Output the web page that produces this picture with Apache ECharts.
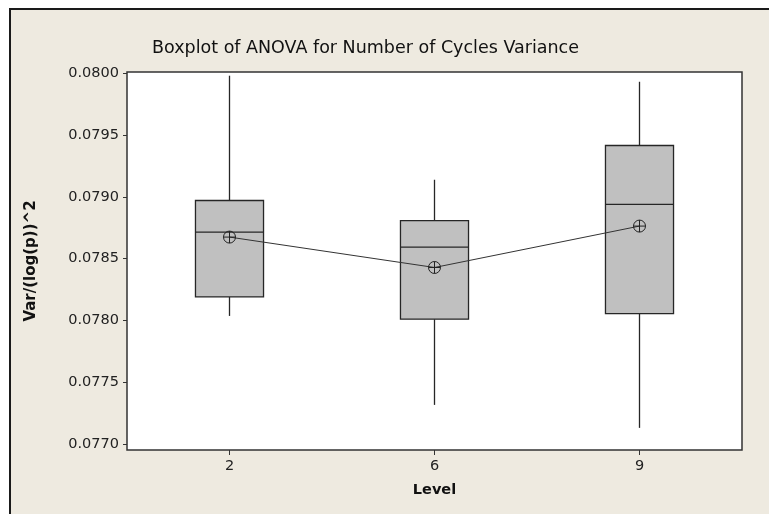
<!DOCTYPE html>
<html>
<head>
<meta charset="utf-8">
<script src="https://cdn.jsdelivr.net/npm/echarts@6/dist/echarts.min.js"></script>
<style>
html,body{margin:0;padding:0;background:#fff;}
#chart{width:769px;height:514px;}
</style>
</head>
<body>
<div id="chart"></div>
<script>
// ---- data ----
const levels = ['2', '6', '9'];
const whiskerLow = [0.078036, 0.077316, 0.077130];
const q1Values = [0.078190, 0.078010, 0.078055];
const medians = [0.078714, 0.078593, 0.078938];
const q3Values = [0.078970, 0.078808, 0.079415];
const whiskerHigh = [0.079980, 0.079138, 0.079931];
const means = [0.078674, 0.078428, 0.078763];
const yTicks = [0.0770, 0.0775, 0.0780, 0.0785, 0.0790, 0.0795, 0.0800];

const boxData = levels.map((l, i) => [i, whiskerLow[i], q1Values[i], medians[i], q3Values[i], whiskerHigh[i]]);

const chart = echarts.init(document.getElementById('chart'), null, {renderer: 'canvas'});
const FONT = 'DejaVu Sans';
const option = {
  animation: false,
  backgroundColor: '#ffffff',
  graphic: [{
    type: 'rect', z: -10, silent: true,
    shape: {x: 10, y: 9, width: 780, height: 530},
    style: {fill: '#EEEAE0', stroke: '#1a1a1a', lineWidth: 2}
  }],
  title: {
    text: 'Boxplot of ANOVA for Number of Cycles Variance',
    left: 147, top: 34,
    textStyle: {fontFamily: FONT, fontSize: 17.5, fontWeight: 'normal', color: '#111'}
  },
  grid: {
    left: 127, right: 27, top: 72, bottom: 64,
    show: true, backgroundColor: '#ffffff', borderColor: '#333', borderWidth: 1.5
  },
  xAxis: {
    type: 'category', data: levels, boundaryGap: true,
    axisLine: {show: false},
    axisTick: {show: true, alignWithLabel: true, length: 5, lineStyle: {color: '#333'}},
    axisLabel: {fontFamily: FONT, fontSize: 14.5, color: '#222', margin: 9},
    name: 'Level', nameLocation: 'middle', nameGap: 33,
    nameTextStyle: {fontFamily: FONT, fontSize: 14.5, fontWeight: 'bold', color: '#111'},
    splitLine: {show: false}
  },
  yAxis: {
    type: 'value', min: 0.076951, max: 0.080010,
    axisLine: {show: false},
    axisTick: {show: true, length: 4, lineStyle: {color: '#333'}, customValues: yTicks},
    axisLabel: {fontFamily: FONT, fontSize: 14.5, color: '#222', margin: 8,
      customValues: yTicks, formatter: v => Number(v).toFixed(4)},
    splitLine: {show: false},
    name: 'Var/(log(p))^2', nameLocation: 'middle', nameGap: 88,
    nameTextStyle: {fontFamily: FONT, fontSize: 15, fontWeight: 'bold', color: '#111'}
  },
  series: [{
    type: 'custom', z: 2,
    data: boxData,
    encode: {x: 0, y: [1, 2, 3, 4, 5]},
    renderItem: function (params, api) {
      const c = api.value(0);
      const pLow = api.coord([c, api.value(1)]);
      const pQ1 = api.coord([c, api.value(2)]);
      const pMed = api.coord([c, api.value(3)]);
      const pQ3 = api.coord([c, api.value(4)]);
      const pHigh = api.coord([c, api.value(5)]);
      const bw = api.size([1, 0])[0] * 0.332;
      const x = pQ1[0];
      const ls = {stroke: '#262626', lineWidth: 1.3};
      return {
        type: 'group',
        children: [
          {type: 'line', shape: {x1: x, y1: pHigh[1], x2: x, y2: pQ3[1]}, style: ls},
          {type: 'line', shape: {x1: x, y1: pQ1[1], x2: x, y2: pLow[1]}, style: ls},
          {type: 'rect', shape: {x: x - bw / 2, y: pQ3[1], width: bw, height: pQ1[1] - pQ3[1]},
            style: {fill: '#C0C0C0', stroke: '#262626', lineWidth: 1.3}},
          {type: 'line', shape: {x1: x - bw / 2, y1: pMed[1], x2: x + bw / 2, y2: pMed[1]}, style: ls}
        ]
      };
    }
  }, {
    type: 'line', z: 5,
    data: means,
    symbol: 'path://M0,10 A10,10 0 1,1 20,10 A10,10 0 1,1 0,10 Z M10,0 L10,20 M0,10 L20,10',
    symbolSize: 12,
    symbolKeepAspect: true,
    itemStyle: {color: 'rgba(0,0,0,0)', borderColor: '#222', borderWidth: 1},
    lineStyle: {color: '#333', width: 1}
  }]
};
chart.setOption(option);
</script>
</body>
</html>
